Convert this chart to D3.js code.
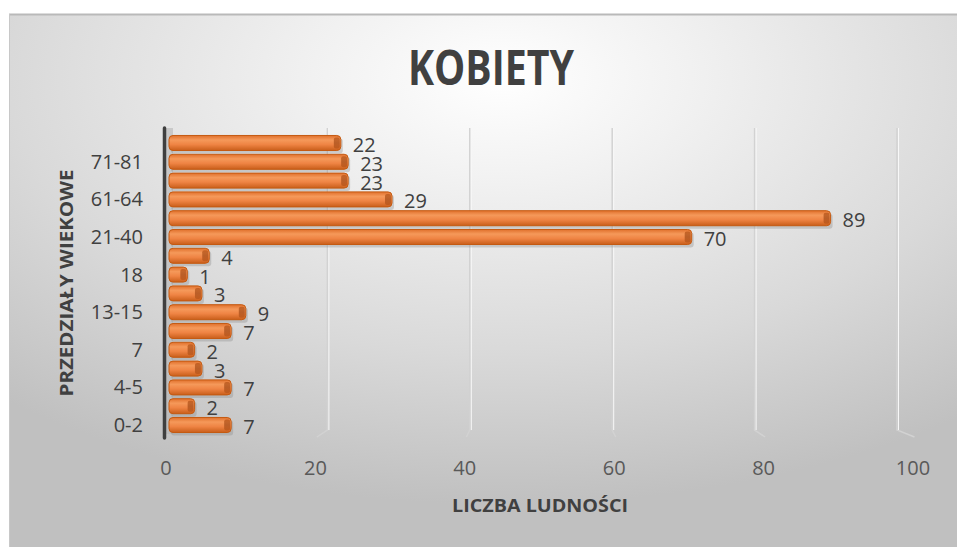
<!DOCTYPE html>
<html>
<head>
<meta charset="utf-8">
<script src="https://cdn.jsdelivr.net/npm/d3@7"></script>
<style>
  html, body { margin: 0; padding: 0; background: #fff; }
  svg { display: block; }
  text { font-family: "Open Sans", "DejaVu Sans", sans-serif; }
</style>
</head>
<body>
<div id="chart"></div>
<script>
    // age groups, bottom to top (only every other one is labelled on the axis)
    const categories = ["0-2", "3", "4-5", "6", "7", "8-12", "13-15", "16-17",
                        "18", "19-20", "21-40", "41-60", "61-64", "65-70", "71-81", "82+"];
    const values = [7, 2, 7, 3, 2, 7, 9, 3, 1, 4, 70, 89, 29, 23, 23, 22];
    const tickValues = [0, 20, 40, 60, 80, 100];

    const title = "KOBIETY";
    const xTitle = "LICZBA LUDNOŚCI";
    const yTitle = "PRZEDZIAŁY WIEKOWE";

    const width = 957;
    const height = 547;

    const svg = d3.select("#chart").append("svg")
        .attr("width", width)
        .attr("height", height);

    const defs = svg.append("defs");

    const bg = defs.append("radialGradient")
        .attr("id", "bg")
        .attr("cx", "52%").attr("cy", "12%")
        .attr("r", "80%")
        .attr("fx", "52%").attr("fy", "12%");
    bg.append("stop").attr("offset", "0").attr("stop-color", "#ffffff");
    bg.append("stop").attr("offset", "0.25").attr("stop-color", "#f1f1f1");
    bg.append("stop").attr("offset", "0.65").attr("stop-color", "#d9d9d9");
    bg.append("stop").attr("offset", "1").attr("stop-color", "#c0c0c0");

    const barGrad = defs.append("linearGradient")
        .attr("id", "bar")
        .attr("x1", 0).attr("y1", 0).attr("x2", 0).attr("y2", 1);
    barGrad.append("stop").attr("offset", "0").attr("stop-color", "#e0702c");
    barGrad.append("stop").attr("offset", "0.3").attr("stop-color", "#f5995a");
    barGrad.append("stop").attr("offset", "0.6").attr("stop-color", "#ef8444");
    barGrad.append("stop").attr("offset", "1").attr("stop-color", "#c95e1a");

    const capGrad = defs.append("linearGradient")
        .attr("id", "cap")
        .attr("x1", 0).attr("y1", 0).attr("x2", 0).attr("y2", 1);
    capGrad.append("stop").attr("offset", "0").attr("stop-color", "#b9561a");
    capGrad.append("stop").attr("offset", "0.5").attr("stop-color", "#a8501c");
    capGrad.append("stop").attr("offset", "1").attr("stop-color", "#b9561a");

    // chart area
    svg.append("rect")
        .attr("x", 9).attr("y", 14)
        .attr("width", width - 9).attr("height", height - 14)
        .attr("fill", "url(#bg)");
    svg.append("line")
        .attr("x1", 9).attr("x2", width)
        .attr("y1", 14.5).attr("y2", 14.5)
        .attr("stroke", "#b9b9b9").attr("stroke-width", 2);
    svg.append("line")
        .attr("x1", 9.5).attr("x2", 9.5)
        .attr("y1", 14).attr("y2", height)
        .attr("stroke", "#c8c8c8").attr("stroke-width", 1);

    // three scales: floor labels, back wall grid, bar fronts (3d perspective)
    const x = d3.scaleLinear().domain([0, 100]).range([166, 913]);
    const xGrid = d3.scaleLinear().domain([0, 100]).range([185, 897]);
    const xBar = d3.scaleLinear().domain([0, 100]).range([180, 911]);

    const y = d3.scaleBand()
        .domain(categories)
        .range([434.4, 133.6])
        .paddingInner(0.2)
        .paddingOuter(0.1);

    // back wall gridlines
    const grid = svg.append("g").attr("class", "grid");
    grid.selectAll("path")
        .data(tickValues.slice(1))
        .join("path")
        .attr("d", d => `M${xGrid(d)},128 V430 L${xGrid(d) + (d - 50) * 0.35},437`)
        .attr("fill", "none")
        .attr("stroke", "#d2d2d2")
        .attr("stroke-width", 1.5);
    grid.selectAll("path.hl")
        .data(tickValues.slice(1))
        .join("path")
        .attr("class", "hl")
        .attr("d", d => `M${xGrid(d) + 1.5},128 V430`)
        .attr("fill", "none")
        .attr("stroke", "#f8f8f8")
        .attr("stroke-width", 1);

    // side wall strip next to axis
    svg.append("rect")
        .attr("x", 166).attr("y", 128)
        .attr("width", 7).attr("height", 306)
        .attr("fill", "#b5b5b5")
        .attr("opacity", 0.6);

    // bars
    const bars = svg.append("g").attr("class", "bars")
        .selectAll("g")
        .data(values.map((v, i) => ({ cat: categories[i], value: v })))
        .join("g");

    bars.append("rect")
        .attr("x", 171)
        .attr("y", d => y(d.cat) + 3)
        .attr("width", d => xBar(d.value) - 169)
        .attr("height", y.bandwidth())
        .attr("rx", 3)
        .attr("fill", "#8a8a8a")
        .attr("opacity", 0.35);

    bars.append("rect")
        .attr("x", 169)
        .attr("y", d => y(d.cat))
        .attr("width", d => xBar(d.value) - 169)
        .attr("height", y.bandwidth())
        .attr("rx", 4)
        .attr("fill", "url(#bar)")
        .attr("stroke", "#c55a11")
        .attr("stroke-width", 1);

    bars.append("rect")
        .attr("x", d => xBar(d.value) - 7)
        .attr("y", d => y(d.cat) + 2)
        .attr("width", 6)
        .attr("height", y.bandwidth() - 4)
        .attr("rx", 2)
        .attr("fill", "url(#cap)")
        .attr("opacity", 0.75);

    bars.append("text")
        .attr("x", d => xBar(d.value) + 12)
        .attr("y", d => y(d.cat) + y.bandwidth() / 2 + 2)
        .attr("dy", "0.35em")
        .attr("font-size", 20)
        .attr("fill", "#404040")
        .text(d => d.value);

    // vertical axis line
    svg.append("line")
        .attr("x1", 164.5).attr("x2", 164.5)
        .attr("y1", 128).attr("y2", 438)
        .attr("stroke", "#3f3f3f")
        .attr("stroke-width", 3.5)
        .attr("stroke-linecap", "round");

    // category labels, every other one
    svg.append("g").attr("class", "y-labels")
        .selectAll("text")
        .data(categories.filter((c, i) => i % 2 === 0))
        .join("text")
        .attr("x", 143)
        .attr("y", d => y(d) + y.bandwidth() / 2)
        .attr("dy", "0.35em")
        .attr("text-anchor", "end")
        .attr("font-size", 20)
        .attr("fill", "#404040")
        .text(d => d);

    // value axis labels
    svg.append("g").attr("class", "x-labels")
        .selectAll("text")
        .data(tickValues)
        .join("text")
        .attr("x", d => x(d))
        .attr("y", 475)
        .attr("text-anchor", "middle")
        .attr("font-size", 20)
        .attr("fill", "#595959")
        .text(d => d);

    // titles
    svg.append("text")
        .attr("x", 491)
        .attr("y", 85)
        .attr("text-anchor", "middle")
        .attr("font-size", 48)
        .attr("font-weight", "bold")
        .attr("fill", "#404040")
        .attr("textLength", 166)
        .attr("lengthAdjust", "spacingAndGlyphs")
        .text(title);

    svg.append("text")
        .attr("x", 540)
        .attr("y", 512)
        .attr("text-anchor", "middle")
        .attr("font-size", 18)
        .attr("font-weight", "bold")
        .attr("fill", "#404040")
        .attr("textLength", 176)
        .attr("lengthAdjust", "spacingAndGlyphs")
        .text(xTitle);

    svg.append("text")
        .attr("transform", "translate(73,283) rotate(-90)")
        .attr("text-anchor", "middle")
        .attr("font-size", 18)
        .attr("font-weight", "bold")
        .attr("fill", "#404040")
        .attr("textLength", 227)
        .attr("lengthAdjust", "spacingAndGlyphs")
        .text(yTitle);
</script>
</body>
</html>
